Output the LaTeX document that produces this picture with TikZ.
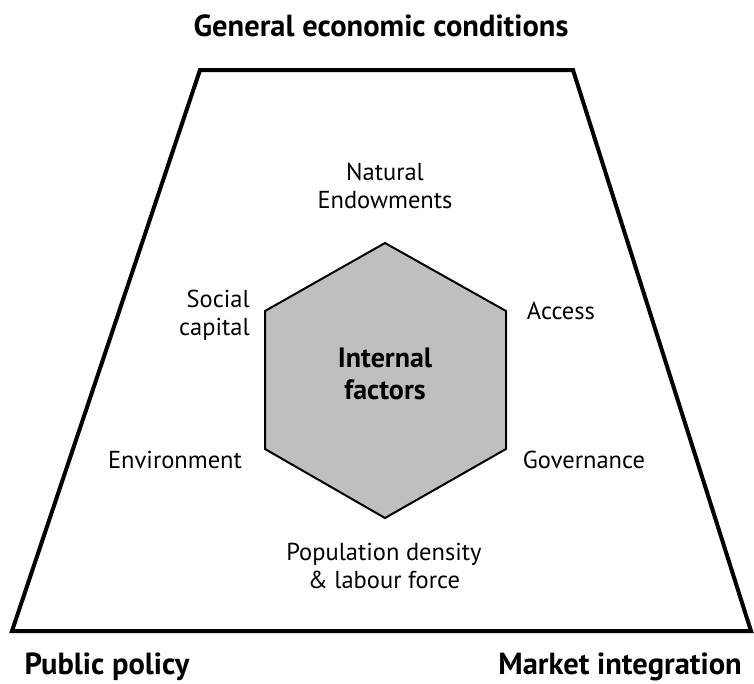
\documentclass[tikz,border=0pt]{standalone}
\usepackage{fontspec}
\setmainfont{PT Sans}
\begin{document}
\begin{tikzpicture}[x=1pt,y=-1pt,
  lbl/.style={font=\fontsize{24.5}{28}\selectfont, align=center, inner sep=0pt},
  head/.style={font=\fontsize{30.5}{34}\selectfont\bfseries, inner sep=0pt},
  frame/.style={line width=4pt, line join=miter},
  hexa/.style={draw=black, fill=black!25, line width=2pt, line join=miter}]
\useasboundingbox (0,0) rectangle (754,683);
\draw[frame] (200,70) -- (573,70) -- (751,631) -- (12,631) -- cycle;
\draw[hexa] (385,243) -- (506,311) -- (506,449) -- (385,518) -- (265,449) -- (265,311) -- cycle;
\node[head] (gec) at (381,26) {General economic conditions};
\node[head] (pp) at (107,667) {Public policy};
\node[head, anchor=east] (mi) at (742,667) {Market integration};
\node[lbl, font=\fontsize{28}{32}\selectfont\bfseries] (int) at (385,374) {Internal\\factors};
\node[lbl] (nat) at (385,186) {Natural\\Endowments};
\node[lbl, align=right, anchor=east] (soc) at (250,315) {Social\\capital};
\node[lbl] (acc) at (561,311) {Access};
\node[lbl] (env) at (175,460) {Environment};
\node[lbl] (gov) at (584,460) {Governance};
\node[lbl] (pop) at (384,566) {Population density\\\& labour force};
\end{tikzpicture}
\end{document}
